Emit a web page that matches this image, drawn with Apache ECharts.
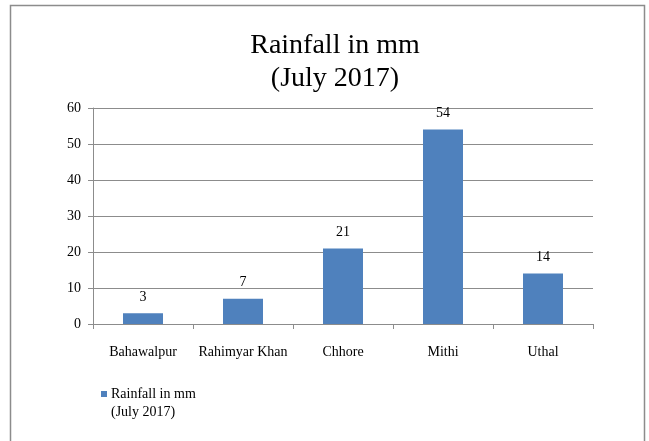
<!DOCTYPE html>
<html><head><meta charset="utf-8">
<script src="https://cdn.jsdelivr.net/npm/echarts@6/dist/echarts.min.js"></script>
<style>html,body{margin:0;padding:0;background:#fff}#c{width:649px;height:441px}</style>
</head><body><div id="c"></div>
<script>
const categories = ['Bahawalpur', 'Rahimyar Khan', 'Chhore', 'Mithi', 'Uthal'];
const rainfall = [3, 7, 21, 54, 14];
const seriesName = 'Rainfall in mm\n(July 2017)';
const titleText = 'Rainfall in mm\n(July 2017)';
const yTicks = [0, 10, 20, 30, 40, 50, 60];

const nameLines = seriesName.split('\n');
const chart = echarts.init(document.getElementById('c'), null, {renderer: 'canvas'});
const font = 'Liberation Serif';
chart.setOption({
  animation: false,
  graphic: [
    {type: 'rect', shape: {x: 10.5, y: 5.5, width: 634, height: 450}, style: {fill: 'none', stroke: '#8c8c8c', lineWidth: 1.5}},
    {type: 'text', left: 111, top: 405, style: {text: nameLines.slice(1).join('\n'), font: '14px "Liberation Serif"', fill: '#000'}}
  ],
  title: {
    text: titleText, left: 330, textAlign: 'center', top: 24,
    textStyle: {fontFamily: font, fontSize: 28, fontWeight: 'normal', color: '#000', lineHeight: 33}
  },
  legend: {
    left: 96, top: 382, itemWidth: 6, itemHeight: 6, icon: 'rect', itemGap: 4,
    formatter: function (n) { return n.split('\n')[0]; },
    textStyle: {fontFamily: font, fontSize: 14, color: '#000', padding: [0, 0, 0, -1]},
    data: [seriesName]
  },
  grid: {left: 93, right: 56, top: 108, bottom: 117, containLabel: false},
  xAxis: {
    type: 'category', data: categories,
    axisLine: {lineStyle: {color: '#8c8c8c'}},
    axisTick: {show: true, length: 5, lineStyle: {color: '#8c8c8c'}},
    axisLabel: {fontFamily: font, fontSize: 14, color: '#000', margin: 21, interval: 0}
  },
  yAxis: {
    type: 'value', min: yTicks[0], max: yTicks[yTicks.length - 1], interval: 10,
    axisLine: {show: true, lineStyle: {color: '#8c8c8c'}},
    axisTick: {show: true, length: 5, lineStyle: {color: '#8c8c8c'}},
    splitLine: {lineStyle: {color: '#8c8c8c'}},
    axisLabel: {fontFamily: font, fontSize: 14, color: '#000', margin: 12}
  },
  series: [{
    name: seriesName, type: 'bar', data: rainfall, barWidth: '40%',
    itemStyle: {color: '#4f81bd'},
    label: {show: true, position: 'top', distance: 9, fontFamily: font, fontSize: 14, color: '#000'}
  }]
});
</script></body></html>
